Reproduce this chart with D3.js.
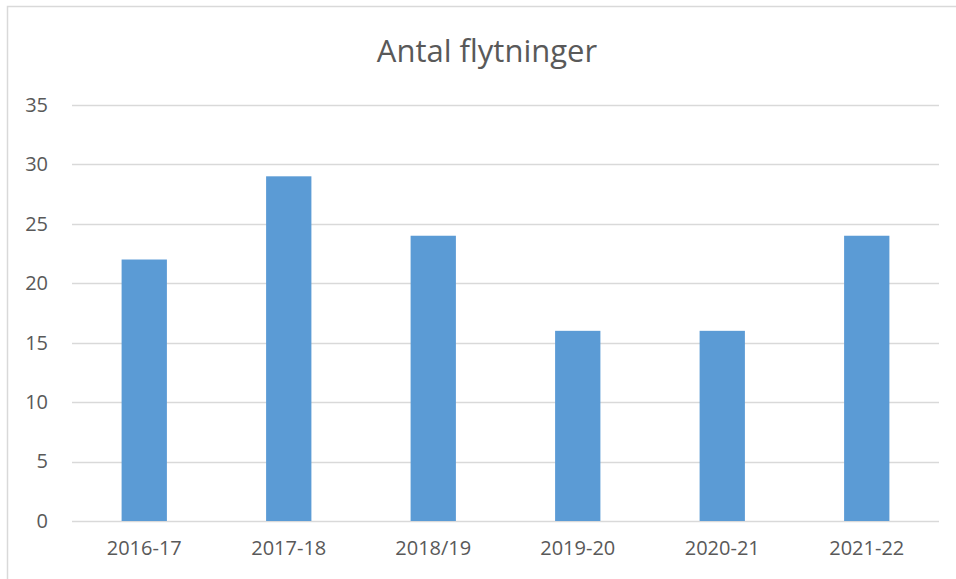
<!DOCTYPE html>
<html>
<head>
<meta charset="utf-8">
<script src="https://cdn.jsdelivr.net/npm/d3@7"></script>
<style>
  body { margin: 0; background: #fff; }
  svg { display: block; }
  text { font-family: "Open Sans", sans-serif; fill: #595959; }
</style>
</head>
<body>
<div id="chart"></div>
<script>
// data
var seasons = ["2016-17", "2017-18", "2018/19", "2019-20", "2020-21", "2021-22"];
var moves = [22, 29, 24, 16, 16, 24];
var yTicks = [0, 5, 10, 15, 20, 25, 30, 35];
var chartTitle = "Antal flytninger";

var W = 956, H = 579;
var margin = { top: 105, right: 17, bottom: 58, left: 72 };
var width = W - margin.left - margin.right,
    height = H - margin.top - margin.bottom;

var svg = d3.select("#chart")
  .append("svg")
  .attr("width", W)
  .attr("height", H);

// outer chart border (runs off the right and bottom edges)
svg.append("rect")
  .attr("x", 7.5).attr("y", 6.5)
  .attr("width", W + 10).attr("height", H + 10)
  .attr("fill", "#fff")
  .attr("stroke", "#d9d9d9")
  .attr("stroke-width", 1.5);

svg.append("text")
  .attr("x", 487)
  .attr("y", 62)
  .attr("text-anchor", "middle")
  .style("font-size", "31px")
  .text(chartTitle);

var g = svg.append("g")
  .attr("transform", "translate(" + margin.left + "," + margin.top + ")");

var x = d3.scaleBand()
  .domain(seasons)
  .range([0, width])
  .padding(0);

var y = d3.scaleLinear()
  .domain([0, 35])
  .range([height, 0]);

// gridlines
g.append("g")
  .selectAll("line")
  .data(yTicks)
  .enter()
  .append("line")
  .attr("x1", 0).attr("x2", width)
  .attr("y1", function (d) { return Math.round(y(d)) + 0.5; })
  .attr("y2", function (d) { return Math.round(y(d)) + 0.5; })
  .attr("stroke", "#d9d9d9")
  .attr("stroke-width", 1.5);

// y labels
var yAxis = g.append("g")
  .call(d3.axisLeft(y).tickValues(yTicks).tickSize(0).tickPadding(24));
yAxis.select(".domain").remove();
yAxis.selectAll("text")
  .style("font-size", "20px")
  .attr("fill", "#595959");

// bars, gap width like excel (about 219%)
var barW = x.bandwidth() / 3.19;
g.append("g")
  .selectAll("rect")
  .data(seasons)
  .enter()
  .append("rect")
  .attr("x", function (d) { return x(d) + (x.bandwidth() - barW) / 2; })
  .attr("y", function (d, i) { return y(moves[i]); })
  .attr("width", barW)
  .attr("height", function (d, i) { return height - y(moves[i]); })
  .attr("fill", "#5b9bd5");

// x labels
var xAxis = g.append("g")
  .attr("transform", "translate(0," + height + ")")
  .call(d3.axisBottom(x).tickSize(0).tickPadding(20));
xAxis.select(".domain").remove();
xAxis.selectAll("text")
  .style("font-size", "20px")
  .attr("fill", "#595959");
</script>
</body>
</html>
